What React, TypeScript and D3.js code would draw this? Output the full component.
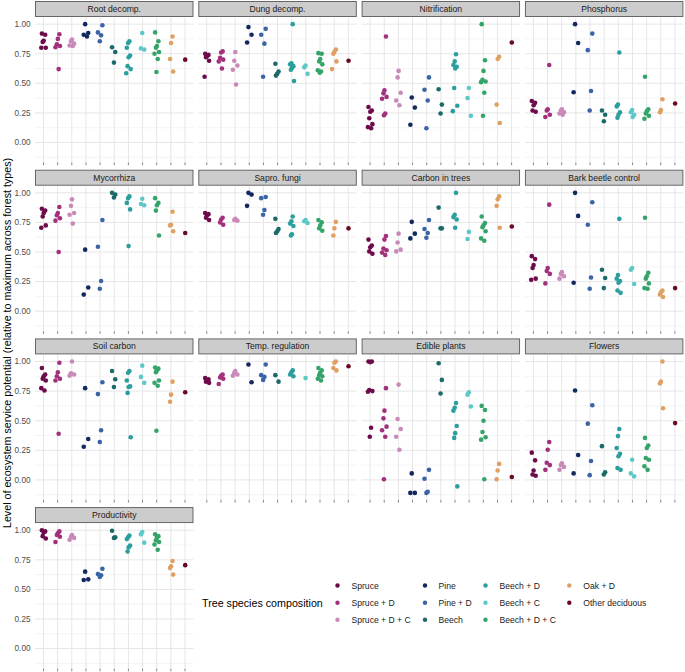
import React from "react";
import * as d3 from "d3";

const groups = [
  "Spruce", "Spruce + D", "Spruce + D + C", "Pine", "Pine + D", "Beech",
  "Beech + D", "Beech + C", "Beech + D + C", "Oak + D", "Other deciduous",
];
const groupColors = [
  "#6c0a4b", "#a3307c", "#c98ab8", "#11295e", "#3a64a6", "#1b6a68",
  "#2b9e9e", "#5ec8c8", "#35a46a", "#e0a062", "#6a0a22",
];

const rootDecomp = [
  [0.92, 0.91, 0.86, 0.85, 0.8, 0.8],
  [0.915, 0.875, 0.83, 0.815, 0.805, 0.62],
  [0.87, 0.855, 0.835, 0.82, 0.815],
  [1.0, 0.925, 0.91, 0.895],
  [0.99, 0.93, 0.905, 0.855],
  [0.805, 0.765, 0.675],
  [0.855, 0.84, 0.8, 0.735, 0.72, 0.645, 0.62, 0.585],
  [0.925, 0.795, 0.785],
  [0.93, 0.855, 0.815, 0.8, 0.765, 0.75, 0.705, 0.595],
  [0.895, 0.84, 0.705, 0.6],
  [0.7],
];
const dungDecomp = [
  [0.75, 0.74, 0.73, 0.72, 0.69, 0.555],
  [0.77, 0.76, 0.715, 0.7, 0.685, 0.625],
  [0.765, 0.69, 0.65, 0.615, 0.49],
  [0.975, 0.91, 0.845],
  [0.96, 0.91, 0.835, 0.555],
  [0.665, 0.6, 0.58, 0.565],
  [1.0, 0.67, 0.66, 0.645, 0.63, 0.615, 0.52],
  [0.65, 0.635, 0.58],
  [0.755, 0.75, 0.705, 0.685, 0.66, 0.61, 0.6, 0.59],
  [0.785, 0.765, 0.75, 0.685, 0.62],
  [0.69],
];
const nitrification = [
  [0.3, 0.27, 0.26, 0.205, 0.155, 0.13, 0.12],
  [0.895, 0.44, 0.415, 0.385, 0.37, 0.245, 0.23],
  [0.605, 0.55, 0.42, 0.355, 0.315],
  [0.38, 0.295, 0.15],
  [0.55, 0.445, 0.355, 0.12],
  [0.45, 0.32, 0.245],
  [0.745, 0.685, 0.655, 0.64, 0.625, 0.46, 0.31, 0.265],
  [0.46, 0.375, 0.225],
  [1.0, 0.695, 0.605, 0.53, 0.515, 0.51, 0.42, 0.225],
  [0.725, 0.705, 0.32, 0.165],
  [0.845],
];
const phosphorus = [
  [0.35, 0.335, 0.315, 0.27, 0.26],
  [0.655, 0.28, 0.27, 0.235, 0.215],
  [0.28, 0.27, 0.255, 0.245, 0.235],
  [1.0, 0.84, 0.425],
  [0.92, 0.78, 0.435, 0.27],
  [0.27, 0.235, 0.18],
  [0.76, 0.32, 0.305, 0.255, 0.235, 0.21],
  [0.275, 0.255, 0.235, 0.215],
  [0.555, 0.28, 0.265, 0.245, 0.225, 0.2],
  [0.365, 0.275, 0.255],
  [0.33],
];
const mycorrhiza = [
  [0.865, 0.85, 0.83, 0.8, 0.725, 0.705],
  [0.88, 0.83, 0.81, 0.785, 0.765, 0.5],
  [0.945, 0.89, 0.83, 0.815, 0.74],
  [0.52, 0.2, 0.14],
  [0.77, 0.545, 0.255, 0.19],
  [1.0, 0.985, 0.96],
  [0.97, 0.955, 0.915, 0.86, 0.55],
  [0.95, 0.905, 0.895],
  [0.955, 0.915, 0.895, 0.85, 0.64],
  [0.84, 0.73, 0.725, 0.675],
  [0.66],
];
const saproFungi = [
  [0.83, 0.82, 0.81, 0.79, 0.77],
  [0.79, 0.775, 0.75, 0.73],
  [0.78, 0.77, 0.765],
  [1.0, 0.985, 0.89],
  [0.965, 0.955, 0.855, 0.815],
  [0.78, 0.695, 0.675, 0.66],
  [0.8, 0.76, 0.74, 0.72, 0.65, 0.64],
  [0.77, 0.76, 0.745],
  [0.77, 0.75, 0.725, 0.7, 0.68],
  [0.755, 0.7, 0.64],
  [0.7],
];
const carbonTrees = [
  [0.605, 0.555, 0.54, 0.505, 0.485],
  [0.635, 0.605, 0.53, 0.515, 0.495, 0.475],
  [0.655, 0.58, 0.52, 0.505],
  [0.755, 0.655, 0.615],
  [0.77, 0.695, 0.66, 0.62],
  [0.875, 0.7, 0.7],
  [1.0, 0.815, 0.795, 0.775, 0.705],
  [0.67, 0.61],
  [0.8, 0.745, 0.725, 0.71, 0.675, 0.615, 0.595],
  [0.97, 0.945, 0.89, 0.705],
  [0.715],
];
const barkBeetle = [
  [0.465, 0.44, 0.39, 0.365, 0.275, 0.265],
  [0.9, 0.365, 0.34, 0.315, 0.235],
  [0.33, 0.315, 0.295, 0.275],
  [1.0, 0.805, 0.24],
  [0.92, 0.73, 0.285, 0.19],
  [0.35, 0.28, 0.195],
  [0.78, 0.305, 0.275, 0.255, 0.24, 0.175, 0.155],
  [0.365, 0.35, 0.23],
  [0.79, 0.325, 0.295, 0.275, 0.235, 0.195, 0.19],
  [0.175, 0.16, 0.14, 0.12],
  [0.195],
];
const soilCarbon = [
  [0.945, 0.89, 0.875, 0.855, 0.84, 0.775, 0.755],
  [0.99, 0.91, 0.875, 0.855, 0.84, 0.39],
  [1.0, 0.9, 0.89, 0.88],
  [0.775, 0.345, 0.28],
  [0.825, 0.725, 0.42, 0.32],
  [0.92, 0.85, 0.785],
  [0.92, 0.905, 0.84, 0.79, 0.785, 0.735, 0.36],
  [0.965, 0.87, 0.82],
  [0.95, 0.94, 0.925, 0.91, 0.84, 0.82, 0.795, 0.415],
  [0.83, 0.72, 0.66],
  [0.74],
];
const tempRegulation = [
  [0.86, 0.85, 0.84, 0.83, 0.82],
  [0.89, 0.88, 0.865, 0.855, 0.81],
  [0.92, 0.905, 0.89, 0.88],
  [0.975, 0.825],
  [0.975, 0.885, 0.87, 0.845],
  [0.885, 0.83],
  [0.925, 0.91, 0.89, 0.875],
  [0.86],
  [0.945, 0.925, 0.905, 0.885, 0.875, 0.855, 0.84],
  [1.0, 0.99, 0.945, 0.925],
  [0.96],
];
const ediblePlants = [
  [1.0, 1.0, 0.995, 0.76, 0.75, 0.745, 0.44, 0.365],
  [0.775, 0.585, 0.52, 0.45, 0.42, 0.365, 0.005],
  [0.805, 0.515, 0.43, 0.365, 0.255],
  [0.055, -0.11, -0.11],
  [0.085, 0.01, -0.1, -0.11],
  [0.985, 0.845, 0.73],
  [0.65, 0.61, 0.585, 0.455, 0.395, 0.355, -0.055],
  [0.74, 0.72, 0.62],
  [0.625, 0.59, 0.5, 0.405, 0.36, 0.34, 0.005],
  [0.135, 0.08, 0.005],
  [0.025],
];
const flowers = [
  [0.23, 0.165, 0.08, 0.045, 0.035],
  [0.32, 0.255, 0.145, 0.125, 0.085],
  [0.14, 0.125, 0.11, 0.085],
  [0.755, 0.21, 0.055],
  [0.63, 0.475, 0.16, 0.04],
  [0.285, 0.065, 0.045],
  [0.43, 0.37, 0.27, 0.22, 0.2, 0.1, 0.085],
  [0.17, 0.055, 0.03],
  [0.355, 0.29, 0.27, 0.185, 0.17, 0.115, 0.085],
  [1.0, 0.83, 0.815, 0.605],
  [0.48],
];
const productivity = [
  [1.0, 0.99, 0.98, 0.95, 0.93],
  [0.99, 0.975, 0.96, 0.945, 0.9],
  [0.96, 0.945, 0.935, 0.92],
  [0.65, 0.585, 0.58],
  [0.675, 0.63, 0.62, 0.605],
  [0.995, 0.94, 0.935],
  [0.955, 0.94, 0.925, 0.87, 0.855, 0.82],
  [0.985, 0.965, 0.895],
  [0.965, 0.95, 0.935, 0.915, 0.9, 0.88, 0.835],
  [0.74, 0.695, 0.68, 0.625],
  [0.705],
];

const services = [
  "Root decomp.", "Dung decomp.", "Nitrification", "Phosphorus",
  "Mycorrhiza", "Sapro. fungi", "Carbon in trees", "Bark beetle control",
  "Soil carbon", "Temp. regulation", "Edible plants", "Flowers",
  "Productivity",
];
const serviceData = [
  rootDecomp, dungDecomp, nitrification, phosphorus,
  mycorrhiza, saproFungi, carbonTrees, barkBeetle,
  soilCarbon, tempRegulation, ediblePlants, flowers,
  productivity,
];
const yTicks = [0, 0.25, 0.5, 0.75, 1.0];
const yMinor = [-0.125, 0.125, 0.375, 0.625, 0.875];

const FONT = "'Liberation Sans', Arial, Helvetica, sans-serif";
const jitter = [-1.6, 1.7, 0.2, -0.8, 2.3, -2.2, 1.0, -0.3];

const panelLeft0 = 35;
const panelPitchX = 163.3;
const panelW = 158.5;
const rowTop0 = 1.5;
const rowPitch = 168.7;
const stripH = 15;
const panelOffset = 16;
const panelH = 145;

export default function App() {
  const x = d3.scalePoint<number>().domain(d3.range(groups.length)).range([0, panelW]).padding(0.6);
  const y = d3.scaleLinear().domain([-0.169, 1.056]).range([panelH, 0]);

  const legendCols = [
    { dot: 337.5, text: 351.5 },
    { dot: 425, text: 438.5 },
    { dot: 485.5, text: 499.5 },
    { dot: 569.3, text: 583.3 },
  ];
  const legendRows = [585.5, 602.7, 619.7];

  return (
    <svg width={685} height={672} style={{ position: "absolute", left: 0, top: 0, background: "#fff" }} fontFamily={FONT}>
      <rect width={685} height={672} fill="#fff" />
      {services.map((name, si) => {
        const col = si % 4;
        const row = Math.floor(si / 4);
        const left = panelLeft0 + col * panelPitchX;
        const stripTop = rowTop0 + row * rowPitch;
        const top = stripTop + panelOffset;
        const data = serviceData[si];
        return (
          <g key={name}>
            <g transform={`translate(${left},${top})`}>
              {yMinor.map((v) => (
                <line key={"mn" + v} x1={0} x2={panelW} y1={y(v)} y2={y(v)} stroke="#ececec" strokeWidth={0.6} />
              ))}
              {yTicks.map((v) => (
                <line key={"mj" + v} x1={0} x2={panelW} y1={y(v)} y2={y(v)} stroke="#e6e6e6" strokeWidth={1} />
              ))}
              {groups.map((g, gi) => (
                <line key={"vx" + gi} x1={x(gi)} x2={x(gi)} y1={0} y2={panelH} stroke="#e6e6e6" strokeWidth={1} />
              ))}
              {groups.map((g, gi) => (
                <line key={"tk" + gi} x1={x(gi)} x2={x(gi)} y1={panelH} y2={panelH + 2.7} stroke="#333" strokeWidth={0.6} />
              ))}
              {data.map((vals, gi) =>
                vals.map((v, pi) => (
                  <circle
                    key={gi + "-" + pi}
                    cx={(x(gi) as number) + jitter[(pi + gi) % jitter.length]}
                    cy={y(v)}
                    r={2.3}
                    fill={groupColors[gi]}
                  />
                ))
              )}
              {col === 0 &&
                yTicks.map((v) => (
                  <text key={"yl" + v} x={-4.5} y={y(v)} dy="0.35em" textAnchor="end" fontSize={8.2} fill="#4d4d4d">
                    {v.toFixed(2)}
                  </text>
                ))}
            </g>
            <rect x={left + 0.5} y={stripTop} width={panelW - 1} height={stripH} fill="#cccccc" stroke="#595959" strokeWidth={0.9} />
            <text x={left + panelW / 2} y={stripTop + stripH / 2} dy="0.35em" textAnchor="middle" fontSize={8.6} fill="#1a1a1a">
              {name}
            </text>
          </g>
        );
      })}
      <text
        transform="translate(10.5,343) rotate(-90)"
        textAnchor="middle"
        fontSize={10.7}
        fill="#000"
      >
        Level of ecosystem service potential (relative to maximum across forest types)
      </text>
      <text x={202} y={603} dy="0.35em" fontSize={10.7} fill="#000">
        Tree species composition
      </text>
      {groups.map((g, gi) => {
        const c = legendCols[Math.floor(gi / 3)];
        const ry = legendRows[gi % 3];
        return (
          <g key={"lg" + gi}>
            <circle cx={c.dot} cy={ry} r={2.2} fill={groupColors[gi]} />
            <text x={c.text} y={ry} dy="0.35em" fontSize={8.6} fill="#1a1a1a">
              {g}
            </text>
          </g>
        );
      })}
    </svg>
  );
}
